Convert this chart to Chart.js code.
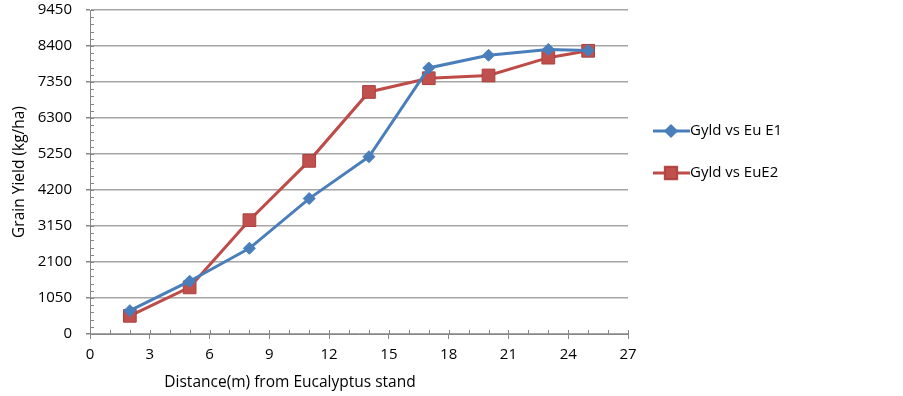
<!DOCTYPE html>
<html>
<head>
<meta charset="utf-8">
<script src="https://cdn.jsdelivr.net/npm/chart.js@4.4.0/dist/chart.umd.min.js"></script>
<style>
  html, body { margin: 0; padding: 0; background: #fff; }
  #wrap { width: 903px; height: 396px; }
</style>
</head>
<body>
<div id="wrap"><canvas id="yieldChart" width="903" height="396"></canvas></div>
<script>
const distances = [2, 5, 8, 11, 14, 17, 20, 23, 25];
const yieldE1 = [680, 1540, 2500, 3950, 5170, 7760, 8130, 8300, 8270];
const yieldE2 = [530, 1360, 3320, 5050, 7060, 7460, 7540, 8060, 8260];
const xTicks = [0, 3, 6, 9, 12, 15, 18, 21, 24, 27];
const yTicks = [0, 1050, 2100, 3150, 4200, 5250, 6300, 7350, 8400, 9450];
const xTitle = "Distance(m) from Eucalyptus stand";

const FONT = "'Open Sans', sans-serif";
const AXIS_GRAY = "#868686";

// minor ticks + inner half of major ticks, like the Excel axis
const minorTicks = {
  id: "minorTicks",
  afterDraw(chart) {
    const ctx = chart.ctx;
    const x = chart.scales.x, y = chart.scales.y;
    ctx.save();
    ctx.strokeStyle = AXIS_GRAY;
    ctx.lineWidth = 1;
    ctx.beginPath();
    for (let v = 0; v <= 27; v++) {
      const px = Math.round(x.getPixelForValue(v)) + 0.5;
      ctx.moveTo(px, y.bottom);
      ctx.lineTo(px, y.bottom - 4);
    }
    for (let v = 0; v <= 9450; v += 210) {
      const py = Math.round(y.getPixelForValue(v)) + 0.5;
      ctx.moveTo(x.left, py);
      ctx.lineTo(x.left + 4, py);
    }
    ctx.stroke();
    // x title sits left of centre in the original
    ctx.fillStyle = "#000";
    ctx.font = "15.5px " + FONT;
    ctx.textAlign = "center";
    ctx.textBaseline = "middle";
    ctx.fillText(xTitle, 290, 383);
    ctx.restore();
  }
};

const sideLegend = {
  id: "sideLegend",
  afterDraw(chart) {
    const ctx = chart.ctx;
    const rows = [131, 173];
    const sizes = [5, 8];
    chart.data.datasets.forEach((ds, i) => {
      const yy = rows[i];
      ctx.save();
      ctx.strokeStyle = ds.borderColor;
      ctx.lineWidth = 3;
      ctx.beginPath();
      ctx.moveTo(653, yy);
      ctx.lineTo(690, yy);
      ctx.stroke();
      ctx.beginPath();
      Chart.helpers.drawPoint(ctx, {
        pointStyle: ds.pointStyle,
        radius: sizes[i],
        borderWidth: 1
      }, 671, yy);
      ctx.fillStyle = ds.pointBackgroundColor;
      ctx.strokeStyle = ds.pointBorderColor;
      ctx.lineWidth = 1;
      ctx.fill();
      ctx.stroke();
      ctx.fillStyle = "#000";
      ctx.font = "15px " + FONT;
      ctx.textBaseline = "middle";
      ctx.fillText(ds.label, 690, yy);
      ctx.restore();
    });
  }
};

new Chart(document.getElementById("yieldChart"), {
  type: "line",
  data: {
    datasets: [
      {
        label: "Gyld vs Eu E1",
        data: distances.map((d, i) => ({ x: d, y: yieldE1[i] })),
        borderColor: "#4a7ebb",
        borderWidth: 3,
        pointStyle: "rectRot",
        pointRadius: 6,
        pointBackgroundColor: "#4a7ebb",
        pointBorderColor: "#4a7ebb",
        pointBorderWidth: 1,
        tension: 0
      },
      {
        label: "Gyld vs EuE2",
        data: distances.map((d, i) => ({ x: d, y: yieldE2[i] })),
        borderColor: "#be4b48",
        borderWidth: 3,
        pointStyle: "rect",
        pointRadius: 9,
        pointBackgroundColor: "#c0504d",
        pointBorderColor: "#a8423f",
        pointBorderWidth: 1,
        tension: 0
      }
    ]
  },
  options: {
    responsive: false,
    animation: false,
    events: [],
    layout: { padding: { left: 0, right: 275, top: 10, bottom: 0 } },
    plugins: { legend: { display: false }, tooltip: { enabled: false } },
    scales: {
      x: {
        type: "linear",
        min: 0,
        max: 27,
        afterBuildTicks: s => { s.ticks = xTicks.map(v => ({ value: v })); },
        afterFit: s => { s.height = 62; s.paddingLeft = 0; s.paddingRight = 0; },
        grid: { drawOnChartArea: false, drawTicks: true, tickLength: 5, color: AXIS_GRAY },
        border: { color: AXIS_GRAY, width: 1 },
        ticks: { color: "#000", font: { family: FONT, size: 15 }, padding: 7, maxRotation: 0 }
      },
      y: {
        min: 0,
        max: 9450,
        afterBuildTicks: s => { s.ticks = yTicks.map(v => ({ value: v })); },
        afterFit: s => { s.width = 90; s.paddingTop = 0; s.paddingBottom = 0; },
        grid: { color: "#a6a6a6", lineWidth: 1.5, drawTicks: true, tickLength: 4, tickColor: AXIS_GRAY },
        border: { color: AXIS_GRAY, width: 1 },
        ticks: {
          color: "#000",
          font: { family: FONT, size: 15 },
          padding: 14,
          callback: v => String(v)
        },
        title: {
          display: true,
          text: "Grain Yield (kg/ha)",
          color: "#000",
          font: { family: FONT, size: 15.5 },
          padding: { top: 10, bottom: 0 }
        }
      }
    }
  },
  plugins: [minorTicks, sideLegend]
});
</script>
</body>
</html>
